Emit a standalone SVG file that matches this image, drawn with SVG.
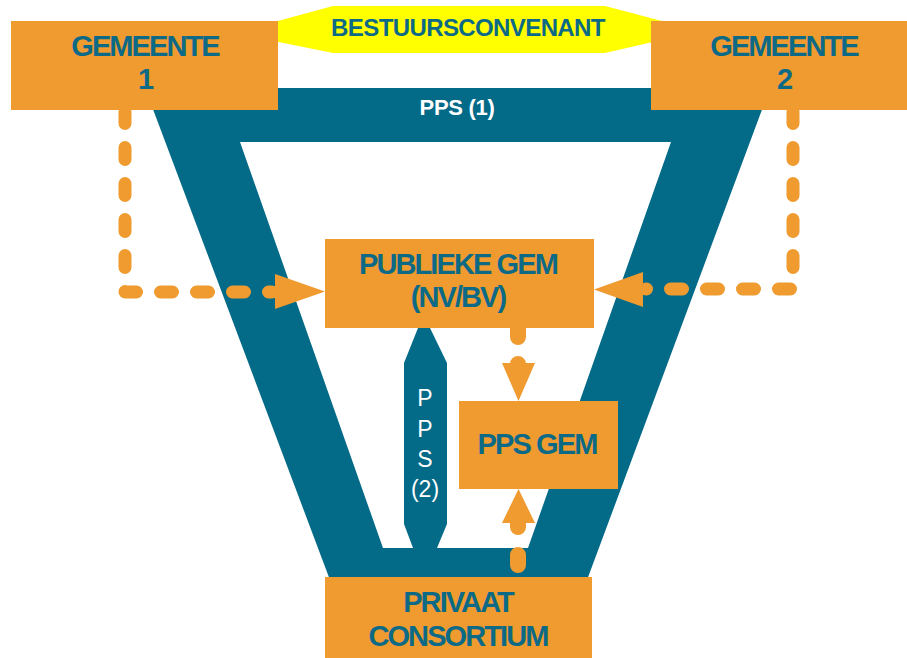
<svg xmlns="http://www.w3.org/2000/svg" width="907" height="658" viewBox="0 0 907 658">
  <style>
    .box { fill: #EF9B30; }
    .lbl { font-family: "Liberation Sans", Arial, sans-serif; font-weight: bold; font-size: 29px; letter-spacing: -1.9px; fill: #0C6A86; text-anchor: middle; }
    .teal { fill: #036A88; }
    .wlbl { font-family: "Liberation Sans", Arial, sans-serif; fill: #FFFFFF; text-anchor: middle; }
    .dash { fill: none; stroke: #EF9B30; stroke-linecap: round; stroke-linejoin: round; }
    .head { fill: #EF9B30; }
  </style>
  <rect width="907" height="658" fill="#FFFFFF"/>

  <g id="bestuursconvenant">
    <polygon points="234,33 333,6 605,6 700,31 605,53 333,53" fill="#FFFF00"/>
    <text x="468" y="36" font-family="Liberation Sans, Arial, sans-serif" font-weight="bold" font-size="24" letter-spacing="-0.6" fill="#0C6A86" text-anchor="middle">BESTUURSCONVENANT</text>
  </g>

  <g id="pps1">
    <path class="teal" fill-rule="evenodd" d="M145,88 L770,88 L587,580 L330,580 Z M240,142 L671,142 L528,548 L383,548 Z"/>
    <text class="wlbl" x="457" y="115" font-size="22" font-weight="bold" letter-spacing="-0.3">PPS (1)</text>
  </g>

  <g id="pps2">
    <polygon class="teal" points="418,328 430,328 447,363 447,524 437,548 413,548 404,524 404,363"/>
    <text class="wlbl" x="425" y="406" font-size="23">P</text>
    <text class="wlbl" x="425" y="437" font-size="23">P</text>
    <text class="wlbl" x="425" y="467" font-size="23">S</text>
    <text class="wlbl" x="425" y="497" font-size="23">(2)</text>
  </g>

  <g id="connectors">
    <path class="dash" stroke-width="13" stroke-dasharray="12 24" d="M125,111.5 V292 H272"/>
    <polygon class="head" points="275,274 325,291.5 275,309"/>
    <path class="dash" stroke-width="13" stroke-dasharray="12 24" d="M793,111.5 V289 H646"/>
    <polygon class="head" points="643,272 594,289.5 643,307"/>
    <path class="dash" stroke-width="16" stroke-dasharray="17 27" d="M518,320 V366"/>
    <polygon class="head" points="502,363 535,363 518.5,401"/>
    <path class="dash" stroke-width="16" stroke-dasharray="10 28 10" d="M518,565 V520"/>
    <polygon class="head" points="502,523 535,523 518.5,489"/>
  </g>

  <g id="gemeente1">
    <rect class="box" x="11" y="21" width="267" height="89"/>
    <text class="lbl" x="145" y="56">GEMEENTE</text>
    <text class="lbl" x="145" y="89">1</text>
  </g>

  <g id="gemeente2">
    <rect class="box" x="651" y="21" width="256" height="89"/>
    <text class="lbl" x="784" y="56">GEMEENTE</text>
    <text class="lbl" x="784" y="89">2</text>
  </g>

  <g id="publieke-gem">
    <rect class="box" x="325" y="239" width="269" height="89"/>
    <text class="lbl" x="458" y="274">PUBLIEKE GEM</text>
    <text class="lbl" x="458" y="307">(NV/BV)</text>
  </g>

  <g id="pps-gem">
    <rect class="box" x="459" y="401" width="159" height="88"/>
    <text class="lbl" x="537" y="454">PPS GEM</text>
  </g>

  <g id="privaat-consortium">
    <rect class="box" x="325" y="577" width="267" height="81"/>
    <text class="lbl" x="458" y="612">PRIVAAT</text>
    <text class="lbl" x="458" y="646">CONSORTIUM</text>
  </g>
</svg>
